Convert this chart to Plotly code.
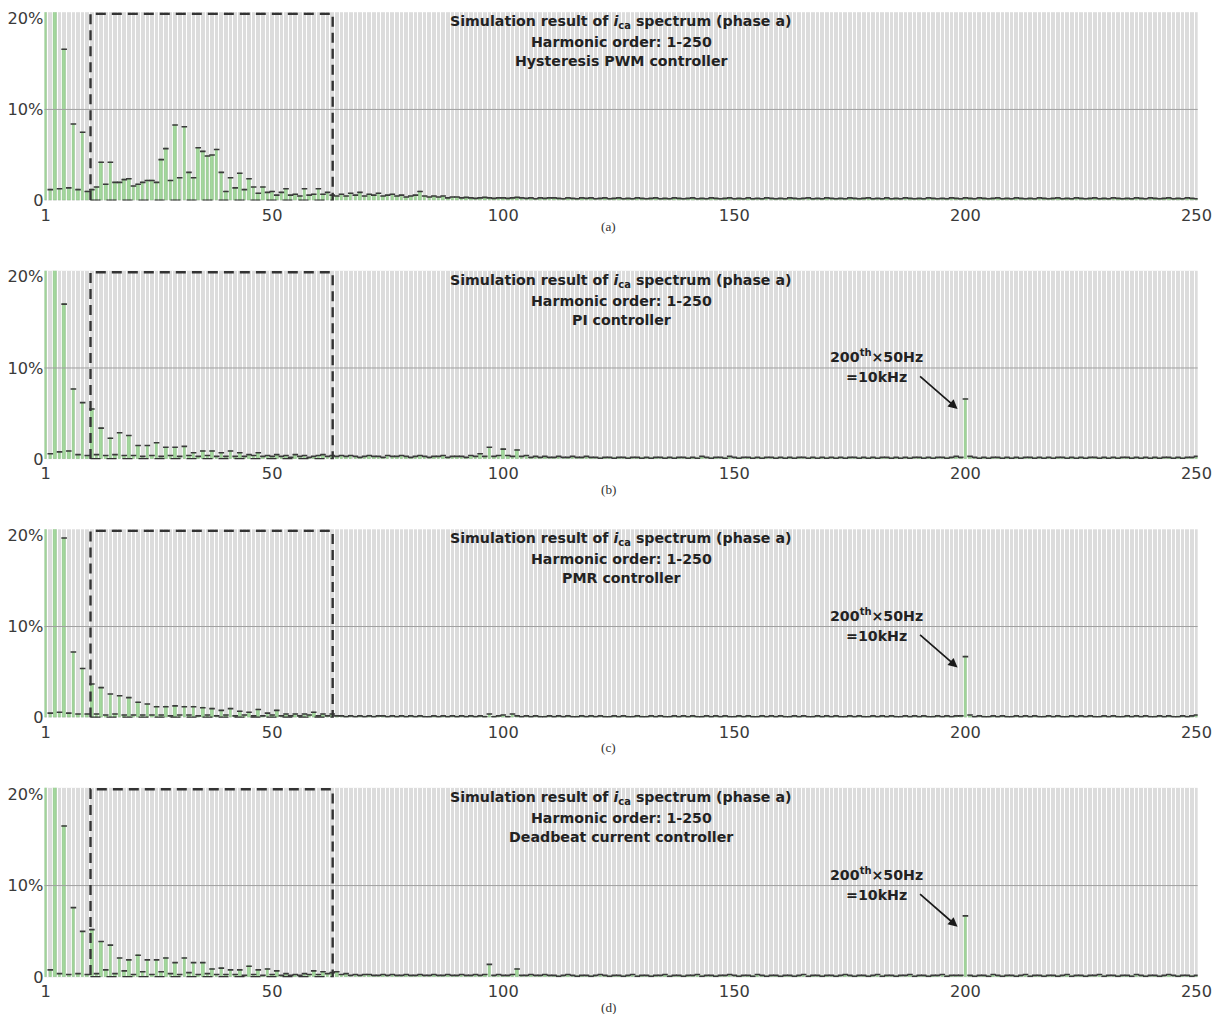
import plotly.graph_objects as go

# ---------------- data ----------------
harmonics = list(range(1, 251))

controllers = ["Hysteresis PWM controller", "PI controller",
               "PMR controller", "Deadbeat current controller"]
captions = ["(a)", "(b)", "(c)", "(d)"]
x_tick_vals = [1, 50, 100, 150, 200, 250]
x_tick_text = ["1", "50", "100", "150", "200", "250"]
y_tick_vals = [0, 10, 20]
y_tick_text = ["0", "10%", "20%"]

spec_hysteresis = [
    100, 1.2, 25, 1.3, 16.6, 1.4, 8.4, 1.2, 7.5, 1.0,
    1.2, 1.5, 4.2, 1.8, 4.2, 2.0, 2.0, 2.3, 2.4, 1.6,
    1.8, 2.0, 2.2, 2.2, 2.0, 4.5, 5.7, 2.2, 8.3, 2.5,
    8.1, 3.1, 2.5, 5.8, 5.4, 4.9, 5.0, 5.6, 3.1, 1.0,
    2.5, 1.4, 3.0, 1.2, 2.4, 1.5, 0.8, 1.5, 0.9, 1.0,
    0.6, 0.9, 1.3, 0.6, 0.7, 0.5, 1.3, 0.6, 0.7, 1.3,
    0.7, 0.9, 0.6, 0.5, 0.7, 0.5, 0.8, 0.6, 0.9, 0.5,
    0.7, 0.6, 0.8, 0.5, 0.6, 0.7, 0.5, 0.6, 0.4, 0.5,
    0.6, 1.0, 0.5, 0.4, 0.5, 0.4, 0.5, 0.3, 0.4, 0.4,
    0.3, 0.35, 0.3, 0.25, 0.3, 0.35, 0.3, 0.25, 0.3, 0.3,
    0.25, 0.3, 0.35, 0.3, 0.25, 0.3, 0.2, 0.3, 0.25, 0.3,
    0.3, 0.25, 0.2, 0.3, 0.25, 0.2, 0.3, 0.25, 0.3, 0.2,
    0.25, 0.3, 0.2, 0.25, 0.3, 0.2, 0.25, 0.2, 0.3, 0.25,
    0.2, 0.25, 0.3, 0.2, 0.25, 0.2, 0.3, 0.25, 0.2, 0.25,
    0.3, 0.2, 0.25, 0.2, 0.3, 0.25, 0.2, 0.25, 0.3, 0.2,
    0.25, 0.2, 0.3, 0.2, 0.25, 0.2, 0.3, 0.25, 0.2, 0.25,
    0.2, 0.3, 0.25, 0.2, 0.25, 0.3, 0.2, 0.25, 0.2, 0.3,
    0.25, 0.2, 0.25, 0.2, 0.3, 0.25, 0.2, 0.25, 0.3, 0.2,
    0.25, 0.2, 0.3, 0.2, 0.25, 0.2, 0.3, 0.25, 0.2, 0.25,
    0.2, 0.3, 0.25, 0.2, 0.25, 0.2, 0.3, 0.25, 0.2, 0.3,
    0.25, 0.2, 0.3, 0.25, 0.2, 0.25, 0.3, 0.2, 0.25, 0.2,
    0.3, 0.25, 0.2, 0.25, 0.2, 0.3, 0.25, 0.2, 0.25, 0.3,
    0.2, 0.25, 0.2, 0.3, 0.25, 0.2, 0.25, 0.3, 0.2, 0.25,
    0.2, 0.3, 0.25, 0.2, 0.25, 0.2, 0.3, 0.25, 0.2, 0.3,
    0.25, 0.2, 0.25, 0.3, 0.2, 0.25, 0.2, 0.3, 0.25, 0.2,
]

spec_pi = [
    100, 0.6, 24, 0.8, 17.0, 0.9, 7.7, 0.5, 6.2, 0.4,
    5.5, 0.5, 3.4, 0.4, 2.3, 0.5, 2.9, 0.4, 2.6, 0.4,
    1.5, 0.3, 1.5, 0.4, 1.8, 0.3, 1.3, 0.4, 1.3, 0.3,
    1.4, 0.4, 0.7, 0.3, 0.9, 0.4, 0.9, 0.3, 0.7, 0.3,
    0.9, 0.3, 0.7, 0.3, 0.5, 0.4, 0.7, 0.3, 0.4, 0.3,
    0.5, 0.3, 0.4, 0.2, 0.5, 0.3, 0.4, 0.2, 0.3, 0.4,
    0.5, 0.3, 0.4, 0.3, 0.4, 0.3, 0.4, 0.3, 0.2, 0.3,
    0.4, 0.3, 0.3, 0.2, 0.4, 0.3, 0.3, 0.4, 0.3, 0.2,
    0.3, 0.4, 0.3, 0.2, 0.3, 0.3, 0.4, 0.2, 0.3, 0.3,
    0.3, 0.2, 0.4, 0.3, 0.6, 0.3, 1.3, 0.3, 0.4, 1.1,
    0.4, 0.3, 1.0, 0.3, 0.4, 0.2, 0.3, 0.2, 0.3, 0.2,
    0.2, 0.3, 0.2, 0.2, 0.3, 0.2, 0.2, 0.3, 0.2, 0.2,
    0.1, 0.2, 0.2, 0.1, 0.2, 0.2, 0.1, 0.2, 0.2, 0.1,
    0.2, 0.1, 0.2, 0.2, 0.1, 0.2, 0.1, 0.2, 0.2, 0.1,
    0.2, 0.1, 0.3, 0.2, 0.1, 0.2, 0.2, 0.1, 0.3, 0.2,
    0.1, 0.2, 0.2, 0.1, 0.2, 0.1, 0.2, 0.2, 0.1, 0.2,
    0.1, 0.2, 0.1, 0.2, 0.2, 0.1, 0.2, 0.1, 0.2, 0.1,
    0.2, 0.1, 0.2, 0.1, 0.2, 0.2, 0.1, 0.2, 0.1, 0.2,
    0.1, 0.2, 0.2, 0.1, 0.2, 0.1, 0.2, 0.1, 0.2, 0.2,
    0.1, 0.2, 0.1, 0.2, 0.2, 0.1, 0.2, 0.3, 0.2, 6.6,
    0.3, 0.2, 0.1, 0.2, 0.1, 0.2, 0.2, 0.1, 0.2, 0.1,
    0.2, 0.1, 0.2, 0.2, 0.1, 0.2, 0.1, 0.2, 0.1, 0.2,
    0.2, 0.1, 0.2, 0.1, 0.2, 0.1, 0.2, 0.2, 0.1, 0.2,
    0.1, 0.2, 0.1, 0.2, 0.2, 0.1, 0.2, 0.1, 0.2, 0.1,
    0.2, 0.1, 0.2, 0.2, 0.1, 0.2, 0.1, 0.2, 0.2, 0.3,
]

spec_pmr = [
    100, 0.5, 24, 0.6, 19.7, 0.5, 7.2, 0.4, 5.4, 0.4,
    3.7, 0.4, 3.3, 0.3, 2.6, 0.4, 2.4, 0.3, 2.2, 0.3,
    1.7, 0.3, 1.5, 0.3, 1.2, 0.3, 1.2, 0.2, 1.3, 0.3,
    1.2, 0.3, 1.2, 0.2, 1.1, 0.3, 1.0, 0.2, 0.8, 0.3,
    1.0, 0.2, 0.7, 0.3, 0.6, 0.2, 0.9, 0.2, 0.5, 0.3,
    0.8, 0.2, 0.4, 0.2, 0.4, 0.2, 0.4, 0.3, 0.6, 0.2,
    0.4, 0.2, 0.4, 0.2, 0.2, 0.1, 0.2, 0.1, 0.2, 0.1,
    0.2, 0.1, 0.2, 0.2, 0.1, 0.2, 0.1, 0.2, 0.1, 0.2,
    0.1, 0.2, 0.1, 0.1, 0.2, 0.1, 0.2, 0.1, 0.2, 0.1,
    0.2, 0.1, 0.2, 0.1, 0.2, 0.1, 0.4, 0.1, 0.2, 0.3,
    0.1, 0.4, 0.2, 0.1, 0.2, 0.1, 0.2, 0.1, 0.1, 0.2,
    0.1, 0.2, 0.1, 0.2, 0.1, 0.1, 0.2, 0.1, 0.2, 0.1,
    0.2, 0.1, 0.1, 0.2, 0.1, 0.2, 0.1, 0.1, 0.2, 0.1,
    0.1, 0.2, 0.1, 0.2, 0.1, 0.1, 0.2, 0.1, 0.2, 0.1,
    0.2, 0.1, 0.1, 0.2, 0.1, 0.2, 0.1, 0.2, 0.1, 0.1,
    0.2, 0.1, 0.2, 0.1, 0.1, 0.2, 0.1, 0.2, 0.1, 0.2,
    0.1, 0.1, 0.2, 0.1, 0.2, 0.1, 0.1, 0.2, 0.1, 0.2,
    0.1, 0.2, 0.1, 0.1, 0.2, 0.1, 0.2, 0.1, 0.1, 0.2,
    0.1, 0.2, 0.1, 0.2, 0.1, 0.1, 0.2, 0.1, 0.2, 0.1,
    0.2, 0.1, 0.1, 0.2, 0.1, 0.2, 0.1, 0.2, 0.2, 6.7,
    0.3, 0.1, 0.2, 0.1, 0.1, 0.2, 0.1, 0.2, 0.1, 0.1,
    0.2, 0.1, 0.2, 0.1, 0.2, 0.1, 0.1, 0.2, 0.1, 0.2,
    0.1, 0.1, 0.2, 0.1, 0.2, 0.1, 0.2, 0.1, 0.1, 0.2,
    0.1, 0.2, 0.1, 0.1, 0.2, 0.1, 0.2, 0.1, 0.2, 0.1,
    0.1, 0.2, 0.1, 0.2, 0.1, 0.1, 0.2, 0.1, 0.2, 0.3,
]

spec_deadbeat = [
    100, 0.8, 24, 0.4, 16.5, 0.3, 7.6, 0.4, 5.0, 0.3,
    5.2, 0.4, 3.9, 0.8, 3.5, 0.4, 2.1, 0.7, 1.9, 0.3,
    2.4, 0.6, 1.9, 0.3, 1.9, 0.6, 2.1, 0.4, 1.6, 0.3,
    2.1, 0.5, 1.6, 0.3, 1.6, 0.4, 0.9, 0.3, 1.0, 0.3,
    0.8, 0.3, 0.8, 0.2, 1.2, 0.3, 0.8, 0.2, 0.9, 0.3,
    0.7, 0.2, 0.4, 0.2, 0.3, 0.2, 0.4, 0.3, 0.7, 0.3,
    0.6, 0.4, 0.5, 0.6, 0.3, 0.4, 0.2, 0.3, 0.2, 0.3,
    0.3, 0.2, 0.2, 0.3, 0.2, 0.3, 0.2, 0.2, 0.3, 0.2,
    0.2, 0.3, 0.2, 0.2, 0.3, 0.2, 0.2, 0.3, 0.2, 0.2,
    0.3, 0.2, 0.2, 0.3, 0.2, 0.3, 1.4, 0.2, 0.3, 0.2,
    0.2, 0.3, 0.9, 0.2, 0.2, 0.3, 0.2, 0.2, 0.3, 0.2,
    0.2, 0.1, 0.2, 0.3, 0.2, 0.1, 0.2, 0.2, 0.1, 0.2,
    0.3, 0.2, 0.1, 0.2, 0.2, 0.1, 0.2, 0.3, 0.1, 0.2,
    0.2, 0.1, 0.2, 0.2, 0.3, 0.1, 0.2, 0.2, 0.1, 0.2,
    0.2, 0.3, 0.1, 0.2, 0.2, 0.1, 0.2, 0.2, 0.3, 0.2,
    0.1, 0.2, 0.2, 0.1, 0.3, 0.2, 0.1, 0.2, 0.2, 0.1,
    0.2, 0.2, 0.1, 0.2, 0.3, 0.1, 0.2, 0.2, 0.1, 0.2,
    0.2, 0.1, 0.2, 0.3, 0.2, 0.1, 0.2, 0.2, 0.1, 0.2,
    0.3, 0.1, 0.2, 0.2, 0.1, 0.2, 0.2, 0.3, 0.1, 0.2,
    0.2, 0.1, 0.2, 0.2, 0.3, 0.1, 0.2, 0.2, 0.2, 6.7,
    0.2, 0.1, 0.2, 0.2, 0.1, 0.3, 0.2, 0.1, 0.2, 0.2,
    0.1, 0.2, 0.3, 0.1, 0.2, 0.2, 0.1, 0.2, 0.2, 0.1,
    0.2, 0.3, 0.1, 0.2, 0.2, 0.1, 0.2, 0.2, 0.3, 0.1,
    0.2, 0.2, 0.1, 0.2, 0.2, 0.1, 0.3, 0.2, 0.1, 0.2,
    0.2, 0.1, 0.2, 0.3, 0.2, 0.1, 0.2, 0.2, 0.1, 0.2,
]

spectra = [spec_hysteresis, spec_pi, spec_pmr, spec_deadbeat]
show_switching_note = [False, True, True, True]

# ---------------- layout geometry ----------------
# Target positions are given in pixels of the final 1219x1014 picture.
# The capture shrinks the page by ~1.5% with a small offset, so target
# pixels are mapped back to page pixels before use.
CAP_S = 0.9853
CAP_OX, CAP_OY = 4.5, 2.8
W = round((1219 - CAP_OX) / CAP_S) + 4
H = round((1014 - CAP_OY) / CAP_S) + 4

X_LEFT, X_RIGHT = 45, 1198
panel_top = [12, 270, 528, 786]
panel_bottom = [200, 458, 716, 975]
Y_MAX = 20.66
X_RANGE = [0.75, 250.25]

def px_x(p):
    return ((p - CAP_OX) / CAP_S) / W

def px_y(p):
    return 1 - ((p - CAP_OY) / CAP_S) / H

def fs(size):
    return size / CAP_S

FONT = "DejaVu Sans, Verdana, sans-serif"
TXT = "#222"

fig = go.Figure()
shapes = []
annotations = []

for i in range(4):
    n = "" if i == 0 else str(i + 1)
    xa, ya = "x" + n, "y" + n
    vals = spectra[i]
    fig.add_trace(go.Bar(
        x=harmonics, y=vals, xaxis=xa, yaxis=ya, width=0.55,
        marker=dict(color="#a3d79d", line=dict(color="#84c27d", width=0.5)),
        showlegend=False, hoverinfo="x+y"))
    fig.add_trace(go.Scatter(
        x=harmonics, y=vals, xaxis=xa, yaxis=ya, mode="markers",
        marker=dict(symbol="line-ew", size=4, line=dict(width=1.6, color="#3a3a3a")),
        showlegend=False, hoverinfo="skip"))

    fig.layout["xaxis" + n] = dict(
        domain=[px_x(X_LEFT), px_x(X_RIGHT)], anchor=ya, range=X_RANGE,
        tickmode="array", tickvals=x_tick_vals, ticktext=x_tick_text,
        showgrid=False, zeroline=False, showline=False, ticks="",
        ticklabelstandoff=3,
        tickfont=dict(family=FONT, size=fs(16), color="#3a3a3a"),
        minor=dict(tickvals=[h + 0.5 for h in range(1, 250)], showgrid=True,
                   gridcolor="white", gridwidth=1, ticks=""),
        fixedrange=True)
    fig.layout["yaxis" + n] = dict(
        domain=[px_y(panel_bottom[i]), px_y(panel_top[i])],
        anchor=xa, range=[0, Y_MAX],
        tickmode="array", tickvals=y_tick_vals, ticktext=y_tick_text,
        showgrid=False, zeroline=False, showline=False, ticks="",
        ticklabelstandoff=0,
        tickfont=dict(family=FONT, size=fs(16), color="#3a3a3a"),
        fixedrange=True)

    # 10% reference line
    shapes.append(dict(type="line", xref="paper", yref=ya,
                       x0=px_x(X_LEFT), x1=px_x(X_RIGHT),
                       y0=10, y1=10, layer="above",
                       line=dict(color="#a0a0a0", width=1)))
    # dashed box (harmonics 11-63)
    shapes.append(dict(type="rect", xref=xa, yref=ya, x0=10.7, x1=63.1,
                       y0=0, y1=20.5, layer="above",
                       line=dict(color="#333", width=2.4, dash="10px,6px")))

    # title lines
    title_lines = [
        "Simulation result of <i>i</i><sub>ca</sub> spectrum (phase a)",
        "Harmonic order: 1-250",
        controllers[i],
    ]
    for line, off in zip(title_lines, [10, 30, 49]):
        annotations.append(dict(
            xref="paper", yref="paper", x=px_x(621.5),
            y=px_y(panel_top[i] + off), text="<b>" + line + "</b>",
            showarrow=False, xanchor="center", yanchor="middle",
            font=dict(family=FONT, size=fs(14), color=TXT)))

    # caption
    annotations.append(dict(
        xref="paper", yref="paper", x=px_x(609),
        y=px_y(panel_bottom[i] + (26 if i == 0 else 30)),
        text=captions[i], showarrow=False, xanchor="center", yanchor="middle",
        font=dict(family="Liberation Serif, Times New Roman, serif", size=fs(13), color="#333")))

    if show_switching_note[i]:
        annotations.append(dict(
            xref=xa, yref=ya, x=180.8, y=11.3,
            text="<b>200<sup>th</sup>×50Hz</b>", showarrow=False,
            xanchor="center", yanchor="middle",
            font=dict(family=FONT, size=fs(14), color=TXT)))
        annotations.append(dict(
            xref=xa, yref=ya, x=180.8, y=9.0,
            text="<b>=10kHz</b>", showarrow=False,
            xanchor="center", yanchor="middle",
            font=dict(family=FONT, size=fs(14), color=TXT)))
        annotations.append(dict(
            xref=xa, yref=ya, x=198.3, y=5.5, text="",
            showarrow=True, arrowhead=2, arrowsize=1.1, arrowwidth=1.7,
            arrowcolor="#1a1a1a", ax=-39, ay=-34))

fig.update_layout(
    width=W, height=H, margin=dict(l=0, r=0, t=0, b=0),
    paper_bgcolor="white", plot_bgcolor="#dcdcdc",
    barmode="overlay", bargap=0, shapes=shapes, annotations=annotations,
    font=dict(family=FONT),
)

fig.write_html("out.html", config={"displayModeBar": False, "responsive": False},
               post_script="document.body.style.margin='0';")
